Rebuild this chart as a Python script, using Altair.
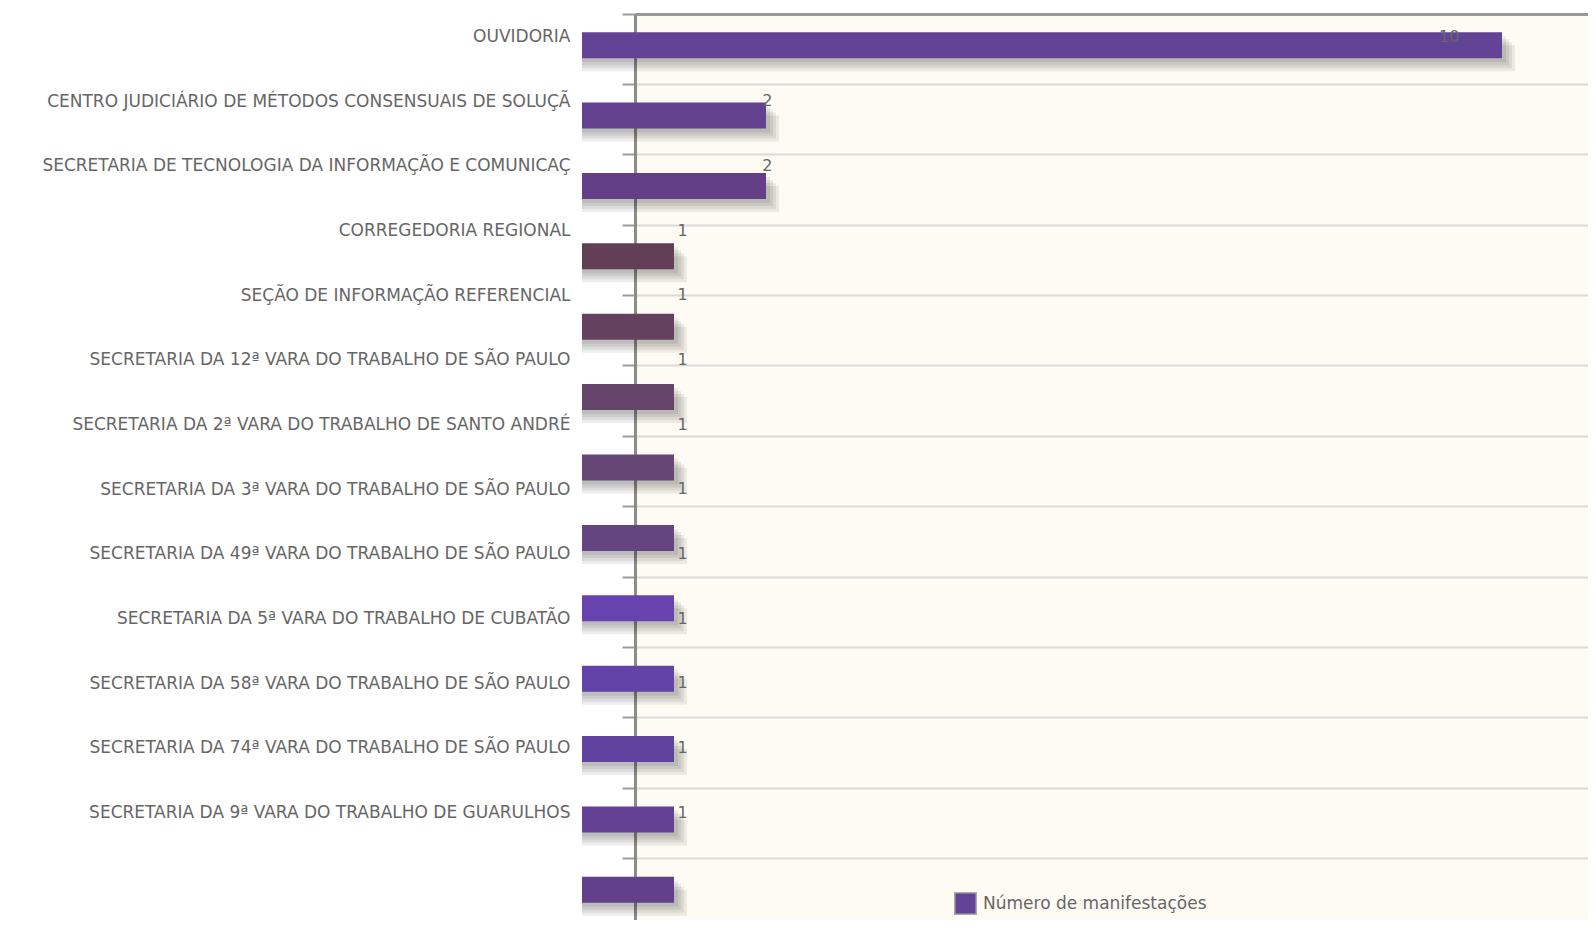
import altair as alt
import pandas as pd

categories = [
    "OUVIDORIA",
    "CENTRO JUDICIÁRIO DE MÉTODOS CONSENSUAIS DE SOLUÇÃ",
    "SECRETARIA DE TECNOLOGIA DA INFORMAÇÃO E COMUNICAÇ",
    "CORREGEDORIA REGIONAL",
    "SEÇÃO DE INFORMAÇÃO REFERENCIAL",
    "SECRETARIA DA 12ª VARA DO TRABALHO DE SÃO PAULO",
    "SECRETARIA DA 2ª VARA DO TRABALHO DE SANTO ANDRÉ",
    "SECRETARIA DA 3ª VARA DO TRABALHO DE SÃO PAULO",
    "SECRETARIA DA 49ª VARA DO TRABALHO DE SÃO PAULO",
    "SECRETARIA DA 5ª VARA DO TRABALHO DE CUBATÃO",
    "SECRETARIA DA 58ª VARA DO TRABALHO DE SÃO PAULO",
    "SECRETARIA DA 74ª VARA DO TRABALHO DE SÃO PAULO",
    "SECRETARIA DA 9ª VARA DO TRABALHO DE GUARULHOS",
]
values = [10, 2, 2, 1, 1, 1, 1, 1, 1, 1, 1, 1, 1]
bar_colors = [
    "#634396", "#62418f", "#623f86", "#633f55", "#64425f", "#65456a", "#654674",
    "#65457f", "#6743b0", "#6343a8", "#62429f", "#634296", "#62418a",
]
series_name = "Número de manifestações"

df = pd.DataFrame({
    "category": categories,
    "value": values,
    "color": bar_colors,
    "series": [series_name] * len(categories),
})

FONT = "DejaVu Sans"
W, H = 953, 906      # declared plot size
Y_RANGE = 915        # bands run slightly past the window bottom, as in the original

y_bar = alt.Y(
    "category:N", sort=categories,
    scale=alt.Scale(paddingInner=0, paddingOuter=0, range=[0, Y_RANGE]),
    axis=alt.Axis(orient="left", labels=False, title=None, bandPosition=0, grid=True,
                  gridColor="#dadada", gridWidth=2, tickSize=13, tickColor="#9a9a9a",
                  tickWidth=2, domainColor="#8c8c8c", domainWidth=3, zindex=0),
)
# zero of the value axis sits 53px left of the plot frame, 92px per unit
x_bar = alt.X("value:Q",
              scale=alt.Scale(domain=[53 / 92, (53 + W) / 92], nice=False, zero=False),
              axis=alt.Axis(orient="top", labels=False, ticks=False, grid=False, title=None,
                            domainColor="#999999", domainWidth=3, zindex=0))
x2_bar = alt.X2(datum=0)

base = alt.Chart(df)

shadows = [
    base.mark_bar(size=26, color="#000000", opacity=0.07, xOffset=k, yOffset=-4 + k)
    .encode(x=x_bar, x2=x2_bar, y=y_bar)
    for k in (4, 7, 10, 13)
]

bars = base.mark_bar(size=26, yOffset=-4).encode(
    x=x_bar, x2=x2_bar, y=y_bar, fill=alt.Fill("color:N", scale=None)
)

legend_layer = base.mark_square(size=0).encode(
    x=x_bar, y=y_bar,
    color=alt.Color("series:N", scale=alt.Scale(range=["#634396"]),
                    legend=alt.Legend(title=None, orient="none", legendX=319, legendY=878,
                                      symbolType="square", symbolSize=460,
                                      symbolStrokeColor="#aaaaaa", symbolStrokeWidth=1.5,
                                      symbolOpacity=1, labelFontSize=17, labelColor="#666666",
                                      labelFont=FONT, labelOffset=6, padding=0,
                                      labelLimit=500)),
)

y_txt = alt.Y(
    "category:N", sort=categories,
    scale=alt.Scale(type="point", range=[22.6, 798.5], padding=0),
    axis=alt.Axis(orient="left", title=None, ticks=False, domain=False, grid=False,
                  labelPadding=65, labelFontSize=17, labelColor="#666666", labelFont=FONT,
                  labelLimit=700),
)
x_txt = alt.X("value:Q", scale=alt.Scale(domain=[0, 10], range=[-42, 804]), axis=None)

value_labels = base.mark_text(align="left", baseline="middle", fontSize=16,
                              color="#666666", font=FONT).encode(
    x=x_txt, y=y_txt, text="value:Q"
)

bars_group = alt.layer(*shadows, bars, legend_layer)
chart = (
    alt.layer(bars_group, value_labels)
    .resolve_scale(x="independent", y="independent")
    .properties(
        width=W, height=H,
        autosize=alt.AutoSizeParams(type="none"),
        padding={"left": 627, "top": 6, "right": 0, "bottom": 0},
    )
    .configure_view(fill="#fdfbf3", stroke=None)
)

chart.save("out.html", embed_options={"renderer": "svg", "actions": False})
